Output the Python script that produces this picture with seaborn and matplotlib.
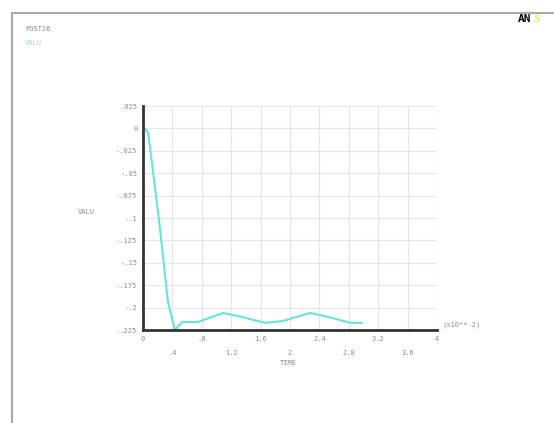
import pandas as pd
import matplotlib.pyplot as plt
import seaborn as sns

# values (time in units of 1e-2)
time = [0.03, 0.07, 0.12, 0.23, 0.34, 0.435, 0.53, 0.75, 1.09, 1.32, 1.66, 1.90, 2.27, 2.50, 2.82, 2.98]
valu = [0.0, -0.005, -0.037, -0.111, -0.194, -0.225, -0.216, -0.216, -0.206, -0.210,
        -0.217, -0.215, -0.206, -0.210, -0.217, -0.217]

x_ticks = [0, 0.4, 0.8, 1.2, 1.6, 2, 2.4, 2.8, 3.2, 3.6, 4]
x_labels = ["0", ".4", ".8", "1.2", "1.6", "2", "2.4", "2.8", "3.2", "3.6", "4"]
y_ticks = [0.025, 0, -0.025, -0.05, -0.075, -0.1, -0.125, -0.15, -0.175, -0.2, -0.225]
y_labels = [".025", "0", "-.025", "-.05", "-.075", "-.1", "-.125", "-.15", "-.175", "-.2", "-.225"]

df = pd.DataFrame({"TIME": time, "VALU": valu})

sns.set_style("white")
plt.rcParams["font.family"] = ["DejaVu Sans Mono"]
txt = "#8a8a8a"

fig = plt.figure(figsize=(5.54, 4.23), dpi=100)

# outer window frame
fig.add_artist(plt.Line2D([12 / 554, 12 / 554], [0, 1 - 13 / 423], color="#aaaaaa", lw=1.5))
fig.add_artist(plt.Line2D([12 / 554, 1], [1 - 13 / 423, 1 - 13 / 423], color="#aaaaaa", lw=1.5))

fig.text(25 / 554, 1 - 29 / 423, "POST26", fontsize=5, color=txt, va="center")
fig.text(25 / 554, 1 - 43 / 423, "VALU", fontsize=5, color="#7fe8e0", va="center")
fig.text(518 / 554, 1 - 19 / 423, "AN", fontsize=8, color="black", weight="bold", va="center")
fig.text(533 / 554, 1 - 19 / 423, "S", fontsize=8, color="#e8f060", weight="bold", va="center")

ax = fig.add_axes([143 / 554, 1 - 330 / 423, (437 - 143) / 554, (330 - 106) / 423])
sns.lineplot(data=df, x="TIME", y="VALU", ax=ax, color="#66e4dc", linewidth=1.5)

ax.set_xlim(0, 4)
ax.set_ylim(-0.225, 0.025)
ax.set_xticks(x_ticks)
ax.set_yticks(y_ticks)
ax.set_yticklabels(y_labels)
ax.set_xticklabels([l if i % 2 == 0 else "\n\n" + l for i, l in enumerate(x_labels)])
ax.tick_params(axis="both", labelsize=5, labelcolor=txt, length=0, pad=4)
ax.grid(True, color="#e6e6e6", lw=0.8)

for s in ["top", "right"]:
    ax.spines[s].set_visible(False)
for s in ["left", "bottom"]:
    ax.spines[s].set_color("#333333")
    ax.spines[s].set_linewidth(2)

ax.set_xlabel("")
ax.set_ylabel("")
fig.text(78 / 554, 1 - 212 / 423, "VALU", fontsize=5, color=txt, va="center")
fig.text(288 / 554, 1 - 363 / 423, "TIME", fontsize=5, color=txt, va="center", ha="center")
fig.text(443 / 554, 1 - 325 / 423, "(x10**-2)", fontsize=5, color=txt, va="center")

plt.savefig("out.png", dpi=100)
